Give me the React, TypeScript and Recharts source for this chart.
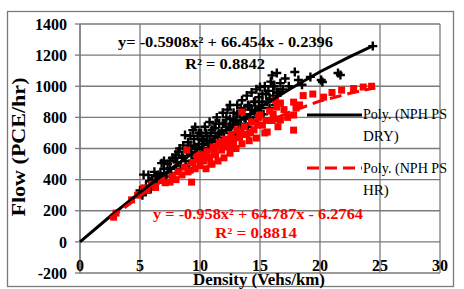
import { ScatterChart, Scatter, XAxis, YAxis, CartesianGrid } from "recharts";

// DRY observations (density veh/km, flow PCE/hr)
const dryPoints: [number, number][] = [
  [5.0, 330], [5.2, 300], [5.3, 432], [5.5, 360], [5.7, 429], [5.9, 340], [6.0, 400], [6.2, 450],
  [6.4, 380], [6.5, 430], [6.7, 442], [6.8, 506], [6.9, 400], [7.0, 470], [7.2, 420], [7.3, 500],
  [7.5, 474], [7.6, 440], [7.7, 540], [7.9, 538], [8.0, 470], [8.1, 510], [8.2, 580], [8.4, 490],
  [8.5, 550], [8.6, 620], [8.75, 686], [8.8, 520], [8.9, 580], [9.0, 640], [9.1, 500], [9.2, 610],
  [9.3, 560], [9.4, 718], [9.5, 660], [9.6, 738], [9.6, 540], [9.7, 600], [9.8, 680], [9.9, 630],
  [10.0, 560], [10.1, 700], [10.2, 600], [10.3, 650], [10.4, 740], [10.5, 580], [10.6, 680], [10.7, 620],
  [10.8, 770], [10.9, 700], [11.0, 640], [11.1, 600], [11.2, 730], [11.3, 680], [11.4, 800], [11.5, 650],
  [11.6, 760], [11.7, 620], [11.8, 710], [11.9, 830], [12.0, 670], [12.1, 760], [12.2, 720], [12.3, 850],
  [12.4, 660], [12.5, 790], [12.5, 880], [12.6, 700], [12.7, 750], [12.8, 830], [12.9, 690], [13.0, 780],
  [13.1, 880], [13.2, 730], [13.3, 820], [13.4, 760], [13.5, 910], [13.6, 700], [13.7, 850], [13.8, 790],
  [13.9, 940], [14.0, 740], [14.1, 870], [14.2, 820], [14.3, 960], [14.4, 780], [14.5, 900], [14.6, 840],
  [14.7, 980], [14.8, 800], [14.9, 930], [15.0, 995], [15.1, 860], [15.2, 950], [15.3, 820], [15.4, 1000],
  [15.6, 900], [15.7, 970], [15.8, 860], [15.9, 1030], [16.0, 1070], [16.1, 940], [16.2, 1000], [16.3, 880],
  [16.4, 1085], [16.5, 960], [16.7, 1020], [16.9, 980], [17.1, 1050], [17.4, 1000], [17.9, 1092], [18.2, 1040],
  [18.5, 1010], [19.2, 1060], [20.1, 1040], [20.2, 1027], [21.5, 1085], [21.7, 1072], [24.4, 1258],
  [8.3, 600], [8.6, 540], [9.0, 590], [9.2, 680], [9.5, 620], [9.9, 700], [10.2, 660], [10.5, 700],
  [10.8, 650], [11.0, 720], [11.3, 760], [11.6, 700], [11.9, 760], [12.2, 800], [12.5, 740], [12.8, 780],
  [13.1, 820], [13.4, 860], [13.7, 800], [14.0, 880], [14.3, 850], [14.6, 900], [14.9, 870], [15.2, 900],
  [15.5, 950], [15.8, 920], [16.1, 1000], [16.4, 960], [16.7, 960], [7.0, 520], [7.5, 520], [8.0, 560],
  [6.3, 420], [5.8, 390],
];

// HR observations
const hrPoints: [number, number][] = [
  [2.8, 159], [3.0, 185], [4.3, 270], [4.8, 300], [5.3, 346], [5.6, 330], [6.0, 370], [6.3, 350],
  [6.8, 397], [7.1, 380], [7.5, 384], [7.7, 420], [8.0, 400], [8.2, 450], [8.5, 430], [8.7, 480],
  [8.9, 590], [9.0, 450], [9.2, 461], [9.3, 384], [9.4, 510], [9.6, 470], [9.8, 530], [10.0, 490],
  [10.1, 560], [10.3, 520], [10.5, 470], [10.6, 580], [10.8, 540], [11.0, 500], [11.1, 610], [11.3, 560],
  [11.5, 520], [11.6, 640], [11.8, 590], [12.0, 540], [12.1, 660], [12.3, 610], [12.5, 570], [12.6, 690],
  [12.8, 640], [13.0, 600], [13.1, 720], [13.3, 670], [13.5, 834], [13.5, 630], [13.7, 740], [13.9, 690],
  [14.1, 650], [14.3, 770], [14.5, 720], [14.7, 667], [14.9, 800], [15.0, 815], [15.2, 750], [15.4, 700],
  [15.6, 706], [15.8, 840], [16.0, 780], [16.3, 790], [16.3, 910], [16.4, 866], [16.5, 740], [16.7, 892],
  [16.7, 783], [17.0, 850], [17.8, 898], [17.8, 815], [17.8, 718], [18.3, 880], [18.6, 940], [19.4, 950],
  [20.3, 930], [21.0, 960], [21.8, 975], [22.8, 985], [23.6, 995], [24.3, 1000],
  [9.7, 560], [10.4, 540], [11.2, 580], [12.0, 620], [12.7, 600], [13.4, 700], [14.2, 700], [14.8, 750],
  [15.5, 780], [16.1, 820], [17.3, 800], [18.0, 860], [10.9, 500], [12.4, 650],
];

// trend lines
const dryTrendDensity = [0, 2.5, 5, 7.5, 10, 12.5, 15, 17.5, 20, 22.5, 24.4];
const dryTrendFlow = [0, 163, 318, 465, 605, 738, 864, 982, 1093, 1190, 1260];
const hrTrendDensity = [2.5, 5, 7.5, 10, 12.5, 15, 17.5, 20, 22.5, 24.6];
const hrTrendFlow = [150, 295, 425, 545, 655, 750, 835, 905, 955, 990];

const xTicks = [0, 5, 10, 15, 20, 25, 30];
const yTicks = [-200, 0, 200, 400, 600, 800, 1000, 1200, 1400];

const dry = dryPoints.map(([x, y]) => ({ x, y }));
const hr = hrPoints.map(([x, y]) => ({ x, y }));
const dryTrend = dryTrendDensity.map((x, i) => ({ x, y: dryTrendFlow[i] }));
const hrTrend = hrTrendDensity.map((x, i) => ({ x, y: hrTrendFlow[i] }));

const serif = "Liberation Serif, DejaVu Serif, serif";
const grid = "#7a7a7a";

const Plus = (props: any) => {
  const { cx, cy } = props;
  return (
    <path
      d={`M${cx - 4.5},${cy}H${cx + 4.5}M${cx},${cy - 4.5}V${cy + 4.5}`}
      stroke="#000"
      strokeWidth={2.4}
    />
  );
};

const Square = (props: any) => {
  const { cx, cy } = props;
  return <rect x={cx - 3.5} y={cy - 3.5} width={7} height={7} fill="#ff0000" />;
};

const Empty = () => <g />;

const XTick = (props: any) => {
  const { x, y, payload } = props;
  return (
    <text x={x} y={y - 2} textAnchor="middle" fontFamily={serif} fontWeight="bold" fontSize={16} fill="#000">
      {payload.value}
    </text>
  );
};

export default function App() {
  return (
    <div
      style={{
        position: "absolute",
        left: 0,
        top: 0,
        width: 464,
        height: 289,
        background: "#fff",
        fontFamily: serif,
      }}
    >
      <ScatterChart width={464} height={289} margin={{ top: 24, right: 24, bottom: 0, left: 0 }}>
        <CartesianGrid stroke={grid} strokeWidth={1.3} />
        <XAxis
          type="number"
          dataKey="x"
          domain={[0, 30]}
          ticks={xTicks}
          height={16}
          tickSize={0}
          tickMargin={0}
          tickLine={false}
          axisLine={false}
          tick={<XTick />}
        />
        <YAxis
          type="number"
          dataKey="y"
          domain={[-200, 1400]}
          ticks={yTicks}
          width={80}
          tickSize={5}
          tickMargin={8}
          axisLine={{ stroke: grid, strokeWidth: 1.3 }}
          tickLine={{ stroke: grid, strokeWidth: 1.3 }}
          tick={{ fontFamily: serif, fontWeight: "bold", fontSize: 16, fill: "#000" }}
        />
        <Scatter data={dry} shape={Plus} isAnimationActive={false} />
        <Scatter data={hr} shape={Square} isAnimationActive={false} />
        <Scatter
          data={dryTrend}
          shape={Empty}
          line={{ stroke: "#000", strokeWidth: 3 }}
          isAnimationActive={false}
        />
        <Scatter
          data={hrTrend}
          shape={Empty}
          line={{ stroke: "#ff0000", strokeWidth: 3, strokeDasharray: "12 6" }}
          isAnimationActive={false}
        />
      </ScatterChart>
      <svg
        width={464}
        height={289}
        style={{ position: "absolute", left: 0, top: 0, pointerEvents: "none", fontFamily: serif }}
      >
        <rect x={7.5} y={11.5} width={446} height={275} fill="none" stroke={grid} strokeWidth={1.3} />
        <text
          transform="translate(25,147) rotate(-90)"
          textAnchor="middle"
          fontSize={18}
          fontWeight="bold"
          textLength={139}
          lengthAdjust="spacingAndGlyphs"
        >
          Flow (PCE/hr)
        </text>
        <text x={193} y={285} fontSize={17} fontWeight="bold" textLength={132} lengthAdjust="spacingAndGlyphs">
          Density (Vehs/km)
        </text>
        <text x={118} y={47} fontSize={15} fontWeight="bold" textLength={215} lengthAdjust="spacingAndGlyphs">
          y= -0.5908x² + 66.454x - 0.2396
        </text>
        <text x={185} y={69} fontSize={15} fontWeight="bold" textLength={80} lengthAdjust="spacingAndGlyphs">
          R² = 0.8842
        </text>
        <text
          x={153}
          y={219}
          fontSize={15}
          fontWeight="bold"
          fill="#ff0000"
          textLength={210}
          lengthAdjust="spacingAndGlyphs"
        >
          y = -0.958x² + 64.787x - 6.2764
        </text>
        <text
          x={215}
          y={238}
          fontSize={15}
          fontWeight="bold"
          fill="#ff0000"
          textLength={82}
          lengthAdjust="spacingAndGlyphs"
        >
          R² = 0.8814
        </text>
        <line x1={307} y1={115} x2={362} y2={115} stroke="#000" strokeWidth={3} />
        <text x={363} y={119} fontSize={15} textLength={84} lengthAdjust="spacingAndGlyphs">
          Poly. (NPH PS
        </text>
        <text x={363} y={141} fontSize={15}>
          DRY)
        </text>
        <line x1={307} y1={168} x2={362} y2={168} stroke="#ff0000" strokeWidth={3} strokeDasharray="12 6" />
        <text x={363} y={173} fontSize={15} textLength={84} lengthAdjust="spacingAndGlyphs">
          Poly. (NPH PS
        </text>
        <text x={363} y={195} fontSize={15}>
          HR)
        </text>
      </svg>
    </div>
  );
}
